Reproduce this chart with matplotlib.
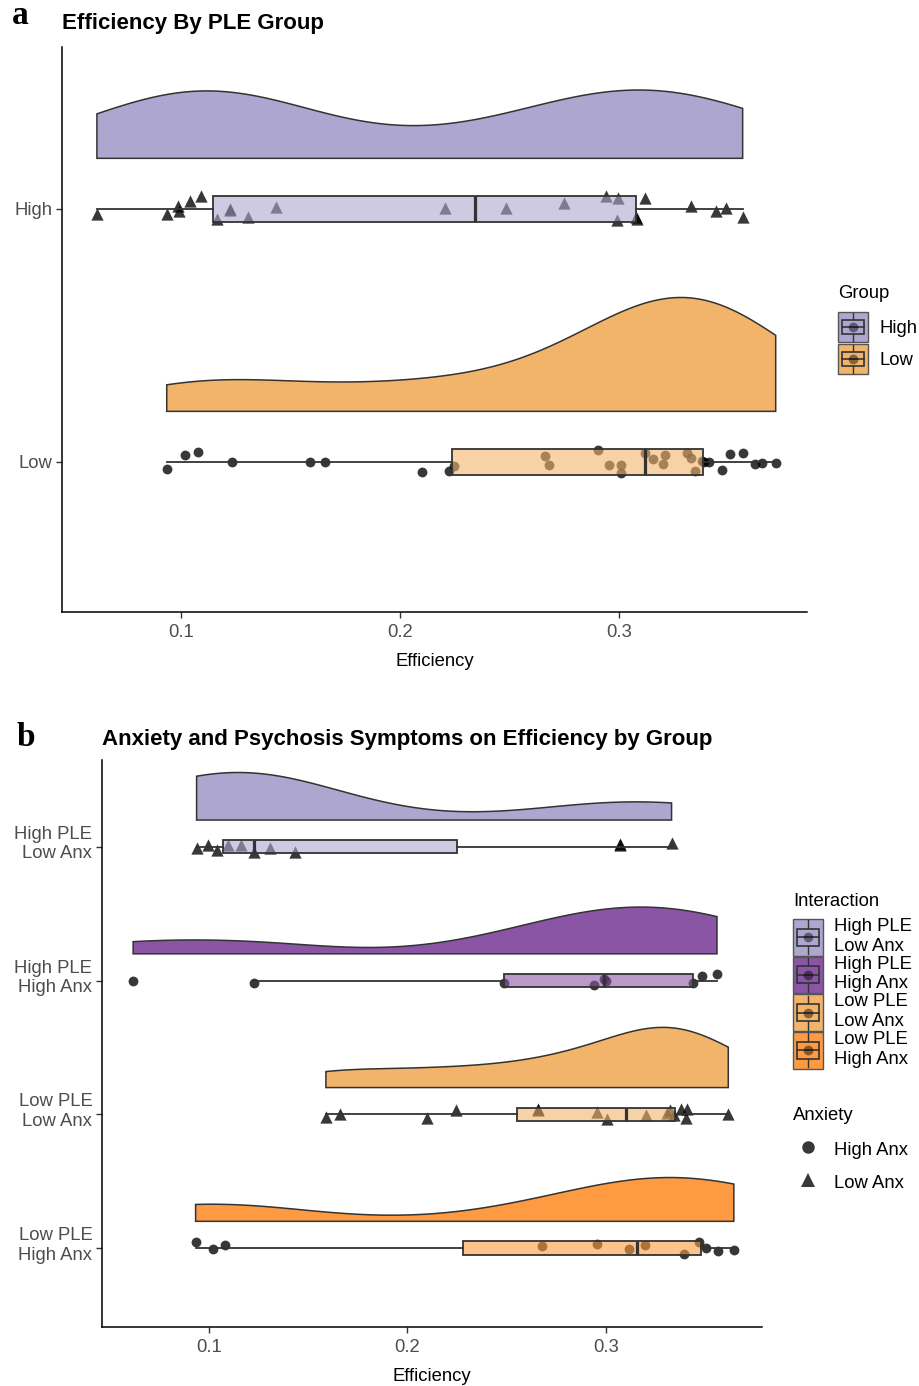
import numpy as np
import matplotlib
matplotlib.use('Agg')
import matplotlib.pyplot as plt
import matplotlib.transforms as mtrans
from matplotlib.patches import Rectangle, Polygon, Patch
from matplotlib.lines import Line2D
from matplotlib.legend_handler import HandlerBase
from matplotlib.colors import to_rgba

plt.rcParams['font.family'] = ['Liberation Sans', 'DejaVu Sans']

# ---------------- data: panel a ----------------
ple_groups = ['High', 'Low']
eff_high = [0.0614, 0.0933, 0.0984, 0.0990, 0.1039, 0.1088, 0.1161, 0.1221, 0.1221,
            0.1306, 0.1430, 0.2203, 0.2484, 0.2748, 0.2939, 0.2994, 0.2990, 0.3078,
            0.3080, 0.3119, 0.3329, 0.3442, 0.3487, 0.3564]
jit_high = [-0.019, -0.019, 0.010, -0.009, 0.030, 0.052, -0.039, 0.000, -0.006,
            -0.032, 0.008, 0.004, 0.004, 0.023, 0.052, 0.045, -0.042, -0.032,
            -0.039, 0.043, 0.013, -0.009, 0.004, -0.032]
eff_low = [0.0933, 0.1017, 0.1077, 0.1230, 0.1587, 0.1658, 0.2101, 0.2223, 0.2247,
           0.2662, 0.2680, 0.2901, 0.2954, 0.3009, 0.3007, 0.3119, 0.3156, 0.3207,
           0.3201, 0.3311, 0.3329, 0.3345, 0.3378, 0.3389, 0.3411, 0.3471, 0.3505,
           0.3566, 0.3622, 0.3651, 0.3715]
jit_low = [-0.027, 0.028, 0.038, 0.000, 0.000, 0.000, -0.038, -0.036, -0.017,
           0.022, -0.013, 0.047, -0.014, -0.013, -0.045, 0.035, 0.012, 0.028,
           -0.009, 0.035, 0.015, -0.036, 0.003, 0.000, 0.000, -0.032, 0.032,
           0.037, -0.010, -0.004, -0.004]

# ---------------- data: panel b ----------------
interaction_labels = ['High PLE\nLow Anx', 'High PLE\nHigh Anx', 'Low PLE\nLow Anx', 'Low PLE\nHigh Anx']
anxiety_labels = ['High Anx', 'Low Anx']
eff_hple_lanx = [0.0937, 0.0994, 0.1041, 0.1095, 0.1162, 0.1224, 0.1309, 0.1433, 0.3070, 0.3072, 0.3332]
jit_hple_lanx = [-0.012, 0.012, -0.025, 0.012, 0.012, -0.037, -0.012, -0.037, 0.020, 0.012, 0.025]
eff_hple_hanx = [0.0617, 0.1228, 0.2488, 0.2941, 0.2993, 0.3002, 0.3441, 0.3486, 0.3561]
jit_hple_hanx = [0.000, -0.020, -0.020, -0.032, 0.010, 0.000, -0.020, 0.037, 0.047]
eff_lple_lanx = [0.1589, 0.1658, 0.2101, 0.2246, 0.2657, 0.2657, 0.2955, 0.3005, 0.3203,
                 0.3310, 0.3323, 0.3343, 0.3378, 0.3407, 0.3412, 0.3618]
jit_lple_lanx = [-0.020, 0.005, -0.025, 0.035, 0.042, 0.030, 0.018, -0.032, -0.008,
                 0.010, 0.030, -0.008, 0.042, -0.025, 0.042, 0.000]
eff_lple_hanx = [0.0932, 0.1021, 0.1078, 0.2678, 0.2954, 0.3119, 0.3200, 0.3394, 0.3471,
                 0.3504, 0.3565, 0.3646]
jit_lple_hanx = [0.049, -0.005, 0.020, 0.012, 0.032, -0.005, 0.020, -0.046, 0.049,
                 0.000, -0.024, -0.012]

# ---------------- style ----------------
C_LPURPLE = '#ADA7D0'
C_DPURPLE = '#8A55A5'
C_LORANGE = '#F2B46B'
C_ORANGE = '#FE9A42'
DARK = '#333333'
FS = 13.3
W, H = 920, 1386
S_TRI, S_CIR = 78, 50

fig = plt.figure(figsize=(W / 100, H / 100), dpi=100)


def kde(vals):
    v = np.asarray(vals, float)
    n = len(v)
    sd = v.std(ddof=1)
    q75, q25 = np.percentile(v, [75, 25])
    bw = 0.9 * min(sd, (q75 - q25) / 1.34) * n ** -0.2
    grid = np.linspace(v.min(), v.max(), 512)
    d = np.exp(-0.5 * ((grid[:, None] - v[None, :]) / bw) ** 2).sum(1) / (n * bw * np.sqrt(2 * np.pi))
    return grid, d


def raincloud(ax, rows, maxh=0.45, box_w=0.1, nudge=0.2):
    dens = [kde(r['eff']) for r in rows]
    dmax = max(d.max() for _, d in dens)
    for r, (g, d) in zip(rows, dens):
        pos = r['pos']
        base = pos + nudge
        top = base + d / dmax * maxh
        verts = [(g[0], base)] + list(zip(g, top)) + [(g[-1], base)]
        ax.add_patch(Polygon(verts, closed=True, facecolor=r['color'], edgecolor=DARK,
                             lw=1.1, zorder=1))
        ax.scatter(r['eff'], pos + np.asarray(r['jit']), marker=r['marker'], s=r['s'],
                   color='black', alpha=0.78, linewidths=0, zorder=2)
        ax.boxplot([r['eff']], positions=[pos], widths=box_w, orientation='horizontal',
                   patch_artist=True, showfliers=False, showcaps=False, whis=1.5,
                   boxprops=dict(facecolor=to_rgba(r['color'], 0.6), edgecolor=DARK, lw=1.3),
                   medianprops=dict(color=DARK, lw=2.3, solid_capstyle='butt'),
                   whiskerprops=dict(color=DARK, lw=1.3), zorder=3, manage_ticks=False)


def style_axes(ax):
    for s in ['top', 'right']:
        ax.spines[s].set_visible(False)
    for s in ['left', 'bottom']:
        ax.spines[s].set_linewidth(1.1)
        ax.spines[s].set_color('black')
    ax.tick_params(axis='both', length=4, width=1.0, color=DARK, labelsize=FS,
                   labelcolor='#4D4D4D', pad=3)
    ax.tick_params(axis='x', pad=5)
    ax.set_xticks([0.1, 0.2, 0.3])
    ax.set_xticklabels(['0.1', '0.2', '0.3'])
    ax.set_xlabel('Efficiency', fontsize=FS, color='black', labelpad=8)


# ---------------- panel a ----------------
ax_a = fig.add_axes([62 / W, 1 - 612 / H, (807 - 62) / W, (612 - 47) / H])
rows_a = [
    dict(eff=eff_high, jit=jit_high, pos=2, color=C_LPURPLE, marker='^', s=S_TRI),
    dict(eff=eff_low, jit=jit_low, pos=1, color=C_LORANGE, marker='o', s=S_CIR),
]
raincloud(ax_a, rows_a)
ax_a.set_xlim(0.04545, 0.3858)
ax_a.set_ylim(0.407, 2.640)
ax_a.set_yticks([2, 1])
ax_a.set_yticklabels(ple_groups)
style_axes(ax_a)

# ---------------- panel b ----------------
ax_b = fig.add_axes([102 / W, 1 - 1327 / H, (762 - 102) / W, (1327 - 760) / H])
rows_b = [
    dict(eff=eff_hple_lanx, jit=jit_hple_lanx, pos=4, color=C_LPURPLE, marker='^', s=S_TRI),
    dict(eff=eff_hple_hanx, jit=jit_hple_hanx, pos=3, color=C_DPURPLE, marker='o', s=S_CIR),
    dict(eff=eff_lple_lanx, jit=jit_lple_lanx, pos=2, color=C_LORANGE, marker='^', s=S_TRI),
    dict(eff=eff_lple_hanx, jit=jit_lple_hanx, pos=1, color=C_ORANGE, marker='o', s=S_CIR),
]
raincloud(ax_b, rows_b)
ax_b.set_xlim(0.046, 0.3788)
ax_b.set_ylim(0.41, 4.649)
ax_b.set_yticks([4, 3, 2, 1])
ax_b.set_yticklabels(interaction_labels)
style_axes(ax_b)
lift = mtrans.ScaledTranslation(0, 6 / 100, fig.dpi_scale_trans)
for t in ax_b.get_yticklabels():
    t.set_linespacing(1.2)
    t.set_transform(t.get_transform() + lift)

# ---------------- titles & panel letters ----------------
fig.text(62 / W, 1 - 23 / H, 'Efficiency By PLE Group', fontsize=16, fontweight='bold',
         ha='left', va='center')
fig.text(102 / W, 1 - 739 / H, 'Anxiety and Psychosis Symptoms on Efficiency by Group',
         fontsize=16, fontweight='bold', ha='left', va='center')
fig.text(12 / W, 1 - 16 / H, 'a', fontsize=24, fontweight='bold', family='Liberation Serif',
         ha='left', va='center')
fig.text(17 / W, 1 - 737 / H, 'b', fontsize=24, fontweight='bold', family='Liberation Serif',
         ha='left', va='center')


# ---------------- legends ----------------
class RainKeyHandler(HandlerBase):
    def create_artists(self, legend, orig_handle, xd, yd, w, h, fontsize, trans):
        fc = orig_handle.get_facecolor()
        x0, y0 = -xd, -yd
        arts = [Rectangle((x0, y0), w, h, facecolor=fc, edgecolor='#555555', lw=1.0, transform=trans)]
        bx0, bx1 = x0 + 0.12 * w, x0 + 0.88 * w
        by0, by1 = y0 + 0.27 * h, y0 + 0.73 * h
        xc, yc = x0 + w / 2, y0 + h / 2
        arts.append(Line2D([xc, xc], [y0 + 0.04 * h, by0], color=DARK, lw=1.0, transform=trans))
        arts.append(Line2D([xc, xc], [by1, y0 + 0.96 * h], color=DARK, lw=1.0, transform=trans))
        arts.append(Rectangle((bx0, by0), bx1 - bx0, by1 - by0, facecolor=fc,
                              edgecolor=DARK, lw=1.2, transform=trans))
        arts.append(Line2D([bx0, bx1], [yc, yc], color=DARK, lw=1.2, transform=trans))
        arts.append(Line2D([xc], [yc], marker='o', ms=7, color='black', alpha=0.45, ls='',
                           markeredgewidth=0, transform=trans))
        return arts


fig.text(838 / W, 1 - 293 / H, 'Group', fontsize=FS, ha='left', va='center')
leg_a = fig.legend(handles=[Patch(facecolor=C_LPURPLE), Patch(facecolor=C_LORANGE)],
                   labels=ple_groups, handler_map={Patch: RainKeyHandler()},
                   loc='upper left', bbox_to_anchor=(838 / W, 1 - 312 / H),
                   frameon=False, fontsize=FS, handlelength=1.62,
                   handleheight=2.115, labelspacing=0.11, handletextpad=0.65, borderpad=0,
                   borderaxespad=0)

fig.text(793 / W, 1 - 901 / H, 'Interaction', fontsize=FS, ha='left', va='center')
leg_b = fig.legend(handles=[Patch(facecolor=c) for c in [C_LPURPLE, C_DPURPLE, C_LORANGE, C_ORANGE]],
                   labels=interaction_labels, handler_map={Patch: RainKeyHandler()},
                   loc='upper left', bbox_to_anchor=(793 / W, 1 - 918 / H),
                   frameon=False, fontsize=FS, handlelength=1.62,
                   handleheight=2.7, labelspacing=0.0, handletextpad=0.6, borderpad=0,
                   borderaxespad=0)
for t in leg_b.get_texts():
    t.set_linespacing(1.2)

fig.text(793 / W, 1 - 1115 / H, 'Anxiety', fontsize=FS, ha='left', va='center')
anx_handles = [Line2D([], [], marker='o', ls='', color='black', alpha=0.78, ms=9, markeredgewidth=0),
               Line2D([], [], marker='^', ls='', color='black', alpha=0.78, ms=10.5, markeredgewidth=0)]
leg_c = fig.legend(handles=anx_handles, labels=anxiety_labels, loc='upper left',
                   bbox_to_anchor=(793 / W, 1 - 1140 / H), frameon=False, fontsize=FS,
                   handlelength=1.62, handleheight=1.0, labelspacing=0.78,
                   handletextpad=0.6, borderpad=0, borderaxespad=0)

fig.savefig('out.png', dpi=100)
